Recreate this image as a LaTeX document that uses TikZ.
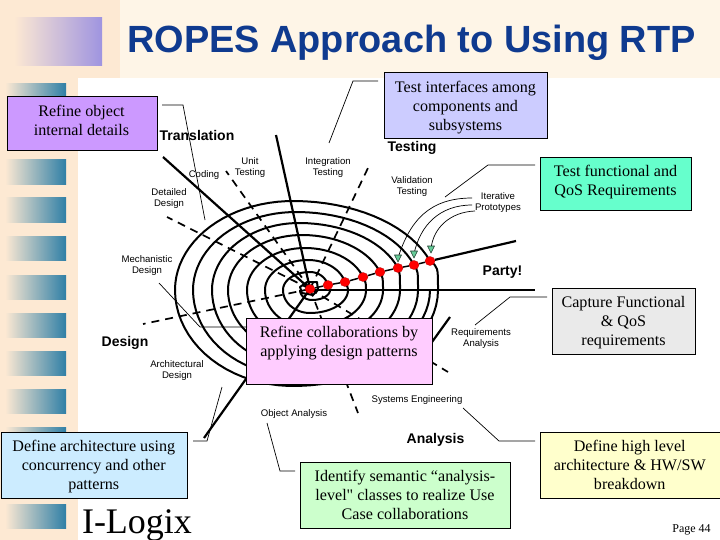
\documentclass[tikz,border=0pt]{standalone}
\usepackage{fontspec}
\setmainfont{Liberation Serif}
\newfontfamily\lsans{Liberation Sans}
\newfontfamily\rawserif{Liberation Serif}
\definecolor{peach}{HTML}{FDE9D3}
\definecolor{cream}{HTML}{FEF5E7}
\definecolor{teal1}{HTML}{2F7FA6}
\definecolor{violet1}{HTML}{9F94E0}
\definecolor{titleblue}{HTML}{0F3A8F}
\definecolor{bpurple}{HTML}{CC99FF}
\definecolor{blav}{HTML}{CCCCFF}
\definecolor{bmint}{HTML}{66FFCC}
\definecolor{bgrey}{HTML}{EAEAEA}
\definecolor{bpink}{HTML}{FFCCFF}
\definecolor{bblue}{HTML}{CCECFF}
\definecolor{bgreen}{HTML}{CCFFCC}
\definecolor{byellow}{HTML}{FFFFCC}
\definecolor{tri}{HTML}{66CC99}
\tikzset{
  note/.style={draw=black,line width=0.8pt,inner sep=0pt,align=center},
  small/.style={font=\lsans\fontsize{9.6}{11}\selectfont,align=center,inner sep=0pt},
  phase/.style={font=\lsans\bfseries\fontsize{14}{15}\selectfont,inner sep=0pt},
  ring/.style={line width=2pt,line join=round},
  ray/.style={line width=2.2pt},
  dashray/.style={line width=1.7pt,dash pattern=on 8pt off 6pt},
  thin line/.style={line width=0.7pt},
  stripe/.style={left color=peach,right color=teal1,draw=none},
  dotn/.style={ellipse,fill=red,draw=red!70!black,line width=0.3pt,minimum width=10pt,minimum height=9pt,inner sep=0pt},
  trin/.style={fill=tri,draw=black!70!tri,line width=0.6pt,line join=round}
}
\usetikzlibrary{shapes.geometric}
\newcommand{\boxnote}[7]{\node[note,fill=#2,minimum width=#5pt-#3pt,minimum height=#6pt-#4pt,anchor=north west] (#1) at (#3,#4) {}; \node[font=\fontsize{16.1}{19}\selectfont,align=center,inner sep=0pt,anchor=north] (#1t) at ({(#3+#5)/2},{#4+8}) {#7};}
\begin{document}
\begin{tikzpicture}[x=1pt,y=-1pt]
\useasboundingbox (0,0) rectangle (720,540);
% background
\fill[peach] (0,0) rectangle (720,540);
\fill[white] (78,78) rectangle (720,540);
\fill[cream] (120,0) rectangle (720,78);
\fill[left color=peach,right color=violet1] (14,18) rectangle (102,66);
\foreach \yy in {84,122,160,198,236,275,313,351,389,427,465,504}
  \fill[stripe] (5,\yy) rectangle (66,\yy+24.5);
% title
\node[font=\lsans\bfseries\fontsize{37.9}{40}\selectfont,text=titleblue,inner sep=0pt,anchor=base] (title) at (411.5,53) {ROPES Approach to Using RTP};
% centre
\coordinate (c) at (310,289);
% dashed rays
\coordinate (dDetailed) at (167,217);
\coordinate (dUnit) at (226,171);
\coordinate (dInteg) at (368,168);
\coordinate (dMech) at (143,324);
\coordinate (dObj) at (358,413);
\coordinate (dSys) at (448,372);
\foreach \e in {dDetailed,dUnit,dInteg,dMech,dObj,dSys}
  \draw[dashray] (c) -- (\e);
% solid rays
\coordinate (rTrans) at (163,157);
\coordinate (rTest) at (276,135);
\coordinate (rAna) at (204,438);
\coordinate (rHoriz) at (535,290);
\coordinate (rParty) at (516,241);
\draw[ray] (c) -- (rTrans);
\draw[ray] (c) -- (rTest);
\draw[ray] (c) -- (rAna);
\draw[ray] (310,290) -- (rHoriz);
\draw[ray] (450,317) -- (432,342);
% spiral: upper halves
\foreach \R/\T/\L/\X/\dx/\dy in {438/201/175/293/430/261,418/212/193/296/414/265,400/223/212/299/398/268,383/235/228/302/380/272,366/248/247/305/363/277,348/260/265/308/345/282,330/272/283/310/328/285}{
  \pgfmathsetmacro{\bb}{290-\T}
  \pgfmathsetmacro{\tt}{asin((290-\dy)/\bb)}
  \pgfmathsetmacro{\ar}{(\dx-\X)/cos(\tt)}
  \pgfmathsetmacro{\al}{\X-\L}
  \draw[ring] plot[domain=\tt:180,samples=40] ({\X+(cos(\x)>0?\ar:\al)*cos(\x)},{290-\bb*sin(\x)})
     (\dx,\dy) .. controls (\R,\dy+6) .. (\R,290);
}
% spiral: lower halves
\foreach \L/\B/\R/\X in {175/386/438/293,193/376/430/296,212/366/418/299,228/353/400/302,247/340/383/305,265/327/366/308,283/313/348/310,300/300/330/312}{
  \pgfmathsetmacro{\bb}{\B-290}
  \pgfmathsetmacro{\ar}{\R-\X}
  \pgfmathsetmacro{\al}{\X-\L}
  \draw[ring] plot[domain=180:360,samples=40] ({\X+(cos(\x)>0?\ar:\al)*cos(\x)},{290-\bb*sin(\x)});
}
\draw[ring] (300,287) -- (307,282) -- (317,282) -- (318,290) -- (313,295) -- (302,293) -- cycle;
% dots
\node[dotn] (d0) at (310,289) {};
\node[dotn] (d1) at (328,285) {};
\node[dotn] (d2) at (345,282) {};
\node[dotn] (d3) at (363,277) {};
\node[dotn] (d4) at (380,272) {};
\node[dotn] (d5) at (398,268) {};
\node[dotn] (d6) at (414,265) {};
\node[dotn] (d7) at (430,261) {};
\draw[line width=1.5pt] (d0) -- (d1) (d1) -- (d2) (d2) -- (d3) (d3) -- (d4) (d4) -- (d5) (d5) -- (d6) (d6) -- (d7);
\draw[ray] (d7) -- (rParty);
% boxes
\boxnote{bObject}{bpurple}{6.5}{96.5}{156.5}{150}{Refine object\\internal details}
\boxnote{bIface}{blav}{384}{72.5}{547}{138}{Test interfaces among\\components and\\subsystems}
\boxnote{bFunc}{bmint}{540}{157}{691}{210}{Test functional and\\QoS Requirements}
\boxnote{bCapture}{bgrey}{552}{288}{695}{354}{Capture Functional\\\& QoS\\requirements}
\boxnote{bCollab}{bpink}{246}{318}{432}{384}{Refine collaborations by\\applying design patterns}
\boxnote{bArch}{bblue}{0.5}{432}{187}{498}{Define architecture using\\concurrency and other\\patterns}
\boxnote{bIdent}{bgreen}{300}{462}{510}{528}{Identify semantic “analysis-\\level{\rawserif"} classes to realize Use\\Case collaborations}
\boxnote{bHigh}{byellow}{540}{432}{719.5}{498}{Define high level\\architecture \& HW/SW\\breakdown}
% thin callouts
\draw[thin line] (162,105) coordinate (a1) -- (183,105) coordinate (a2) -- (205,220) coordinate (a3);
\draw[thin line] (378,81) coordinate (b1) -- (353,81) coordinate (b2) -- (329,143) coordinate (b3);
\draw[thin line] (535,165) coordinate (e1) -- (488,165) coordinate (e2) -- (445,197) coordinate (e3);
\draw[thin line] (547,297) coordinate (f1) -- (510,297) coordinate (f2) -- (475,325) coordinate (f3);
\draw[thin line] (247,327) coordinate (g1) -- (200,327) coordinate (g2) -- (159,283) coordinate (g3);
\draw[thin line] (193,441) coordinate (h1) -- (207,441) coordinate (h2) -- (222,387) coordinate (h3);
\draw[thin line] (295,471) coordinate (i1) -- (280,471) coordinate (i2) -- (267,423) coordinate (i3);
\draw[thin line] (535,441) coordinate (j1) -- (499,441) coordinate (j2) -- (463,408) coordinate (j3);
% iterative prototypes curves
\coordinate (t1) at (398,258);
\coordinate (t2) at (414,254);
\coordinate (t3) at (431,249);
\draw[thin line] (472,198) .. controls (430,198) and (410,220) .. (t1);
\draw[thin line] (472,205) .. controls (440,205) and (420,225) .. (t2);
\draw[thin line] (475,211) .. controls (450,212) and (433,228) .. (t3);
\draw[trin] (394.5,255) -- (401.5,255) -- (398,262) -- cycle;
\draw[trin] (410.5,251) -- (417.5,251) -- (414,258) -- cycle;
\draw[trin] (427.5,246) -- (434.5,246) -- (431,253) -- cycle;
% phase labels
\node[phase] (pTrans) at (197,135) {Translation};
\node[phase] (pTest) at (412,148) {Testing};
\node[phase] (pParty) at (502.5,272) {Party!};
\node[phase] (pDesign) at (125,343) {Design};
\node[phase] (pAna) at (435.5,440) {Analysis};
% small labels
\node[small] (lCoding) at (204,175) {Coding};
\node[small] (lUnit) at (250,167.5) {Unit\\Testing};
\node[small] (lInteg) at (328,167.5) {Integration\\Testing};
\node[small] (lValid) at (412,186.5) {Validation\\Testing};
\node[small] (lIter) at (498,202.5) {Iterative\\Prototypes};
\node[small] (lDetail) at (169,199) {Detailed\\Design};
\node[small] (lMech) at (147,265.5) {Mechanistic\\Design};
\node[small] (lArch) at (177,370.5) {Architectural\\Design};
\node[small] (lReq) at (481,338.5) {Requirements\\Analysis};
\node[small] (lSys) at (417,400) {Systems Engineering};
\node[small] (lObj) at (294,414) {Object Analysis};
\node[inner sep=0pt,font=\fontsize{12}{13}\selectfont] (page) at (691.5,530) {Page 44};
\node[inner sep=0pt,anchor=base,font=\fontsize{36}{38}\selectfont] (logo) at (137,533) {I-Logix};
\end{tikzpicture}
\end{document}
